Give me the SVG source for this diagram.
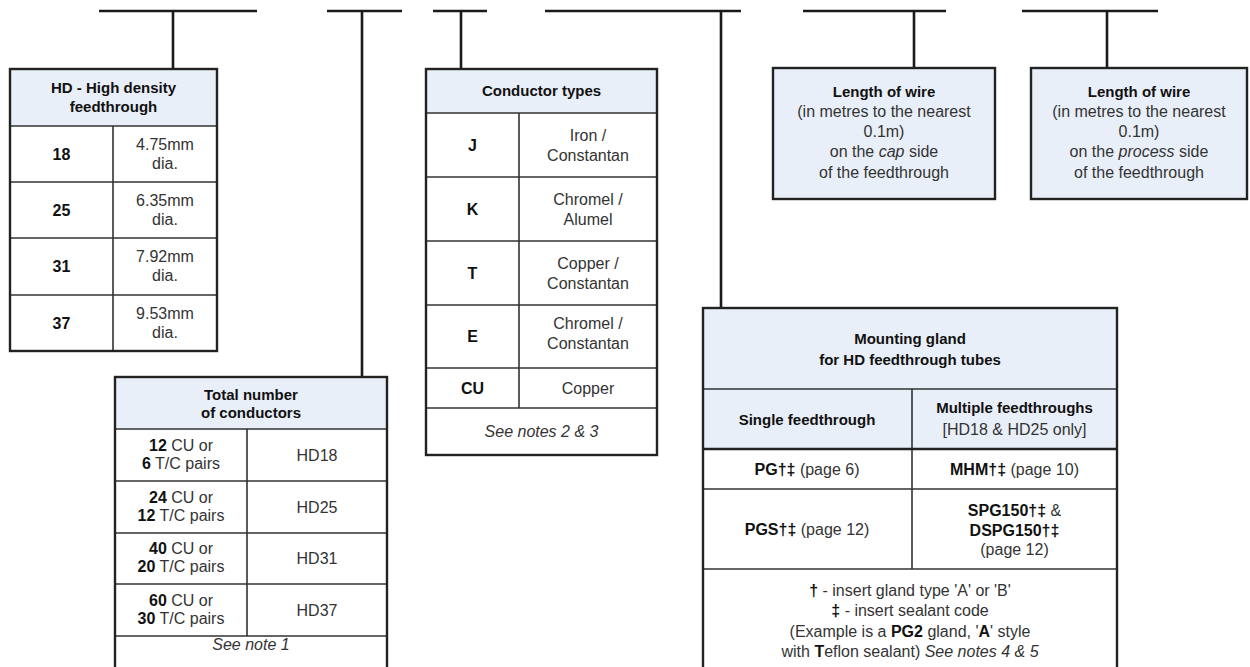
<svg xmlns="http://www.w3.org/2000/svg" width="1250" height="667" viewBox="0 0 1250 667">
<style>
text{font-family:"Liberation Sans",Arial,sans-serif;font-size:16px;fill:#333;text-anchor:middle}
.t{font-weight:bold;fill:#111;font-size:15px}
.b{font-weight:bold;fill:#111}
.i{font-style:italic}
.hdr{fill:#e9eff8}
.box{fill:none;stroke:#222;stroke-width:2.4}
.cell{fill:#fff}
.div{stroke:#333;stroke-width:1.6;fill:none}
.con{stroke:#1a1a1a;stroke-width:2.6;fill:none}
</style>
<g id="connectors">
<path class="con" d="M99 11H257M173 11V69"/>
<path class="con" d="M327 11H402M362 11V377"/>
<path class="con" d="M433 11H487M461 11V69"/>
<path class="con" d="M545 11H741M721 11V308"/>
<path class="con" d="M803 11H946M914 11V68"/>
<path class="con" d="M1022 11H1158M1107 11V68"/>
</g>
<g id="hd-box">
<rect class="cell" x="10" y="69" width="207" height="282"/>
<rect class="hdr" x="10" y="69" width="207" height="57"/>
<path class="div" d="M10 126H217M10 182H217M10 238H217M10 295H217M113 126V351"/>
<rect class="box" x="10" y="69" width="207" height="282"/>
<text class="t" x="113.5" y="93">HD - High density</text>
<text class="t" x="113.5" y="112">feedthrough</text>
<text class="b" x="61.5" y="160">18</text>
<text x="165" y="150">4.75mm</text><text x="165" y="169">dia.</text>
<text class="b" x="61.5" y="216">25</text>
<text x="165" y="206">6.35mm</text><text x="165" y="225">dia.</text>
<text class="b" x="61.5" y="272">31</text>
<text x="165" y="262">7.92mm</text><text x="165" y="281">dia.</text>
<text class="b" x="61.5" y="329">37</text>
<text x="165" y="319">9.53mm</text><text x="165" y="338">dia.</text>
</g>
<g id="total-box">
<rect class="cell" x="115" y="377" width="272" height="292"/>
<rect class="hdr" x="115" y="377" width="272" height="52"/>
<path class="div" d="M115 429H387M115 481H387M115 533H387M115 584H387M115 636H387M247 429V636"/>
<rect class="box" x="115" y="377" width="272" height="292"/>
<text class="t" x="251" y="400">Total number</text>
<text class="t" x="251" y="418">of conductors</text>
<text x="181" y="451"><tspan class="b">12</tspan> CU or</text>
<text x="181" y="469"><tspan class="b">6</tspan> T/C pairs</text>
<text x="317" y="461">HD18</text>
<text x="181" y="503"><tspan class="b">24</tspan> CU or</text>
<text x="181" y="521"><tspan class="b">12</tspan> T/C pairs</text>
<text x="317" y="513">HD25</text>
<text x="181" y="554"><tspan class="b">40</tspan> CU or</text>
<text x="181" y="572"><tspan class="b">20</tspan> T/C pairs</text>
<text x="317" y="564">HD31</text>
<text x="181" y="606"><tspan class="b">60</tspan> CU or</text>
<text x="181" y="624"><tspan class="b">30</tspan> T/C pairs</text>
<text x="317" y="616">HD37</text>
<text class="i" x="251" y="650">See note 1</text>
</g>
<g id="conductor-box">
<rect class="cell" x="426" y="69" width="231" height="386"/>
<rect class="hdr" x="426" y="69" width="231" height="44"/>
<path class="div" d="M426 113H657M426 177H657M426 241H657M426 305H657M426 368H657M426 408H657M519 113V408"/>
<rect class="box" x="426" y="69" width="231" height="386"/>
<text class="t" x="541.5" y="96">Conductor types</text>
<text class="b" x="472.5" y="151">J</text>
<text x="588" y="141">Iron /</text><text x="588" y="161">Constantan</text>
<text class="b" x="472.5" y="215">K</text>
<text x="588" y="205">Chromel /</text><text x="588" y="225">Alumel</text>
<text class="b" x="472.5" y="279">T</text>
<text x="588" y="269">Copper /</text><text x="588" y="289">Constantan</text>
<text class="b" x="472.5" y="342">E</text>
<text x="588" y="329">Chromel /</text><text x="588" y="349">Constantan</text>
<text class="b" x="472.5" y="394">CU</text>
<text x="588" y="394">Copper</text>
<text class="i" x="541.5" y="437">See notes 2 &amp; 3</text>
</g>
<g id="cap-length-box">
<rect class="hdr" x="773" y="68" width="222" height="131"/>
<rect class="box" x="773" y="68" width="222" height="131"/>
<text class="t" x="884" y="97">Length of wire</text>
<text x="884" y="117">(in metres to the nearest</text>
<text x="884" y="137">0.1m)</text>
<text x="884" y="157">on the <tspan class="i">cap</tspan> side</text>
<text x="884" y="178">of the feedthrough</text>
</g>
<g id="process-length-box">
<rect class="hdr" x="1031" y="68" width="216" height="131"/>
<rect class="box" x="1031" y="68" width="216" height="131"/>
<text class="t" x="1139" y="97">Length of wire</text>
<text x="1139" y="117">(in metres to the nearest</text>
<text x="1139" y="137">0.1m)</text>
<text x="1139" y="157">on the <tspan class="i">process</tspan> side</text>
<text x="1139" y="178">of the feedthrough</text>
</g>
<g id="mounting-gland-box">
<rect class="cell" x="703" y="308" width="414" height="361"/>
<rect class="hdr" x="703" y="308" width="414" height="141"/>
<path class="div" d="M703 389H1117M912 389V569"/>
<path class="box" d="M703 449H1117"/>
<path class="div" d="M703 489H1117M703 569H1117"/>
<rect class="box" x="703" y="308" width="414" height="361"/>
<text class="t" x="910" y="344">Mounting gland</text>
<text class="t" x="910" y="365">for HD feedthrough tubes</text>
<text class="t" x="807" y="425">Single feedthrough</text>
<text class="t" x="1014.5" y="413">Multiple feedthroughs</text>
<text x="1014.5" y="435">[HD18 &amp; HD25 only]</text>
<text x="807" y="475"><tspan class="b">PG†‡</tspan> (page 6)</text>
<text x="1014.5" y="475"><tspan class="b">MHM†‡</tspan> (page 10)</text>
<text x="807" y="535"><tspan class="b">PGS†‡</tspan> (page 12)</text>
<text x="1014.5" y="516"><tspan class="b">SPG150†‡</tspan> &amp;</text>
<text class="b" x="1014.5" y="536">DSPG150†‡</text>
<text x="1014.5" y="555">(page 12)</text>
<text x="910" y="596"><tspan class="b">†</tspan> - insert gland type 'A' or 'B'</text>
<text x="910" y="616"><tspan class="b">‡</tspan> - insert sealant code</text>
<text x="910" y="637">(Example is a <tspan class="b">PG2</tspan> gland, '<tspan class="b">A</tspan>' style</text>
<text x="910" y="657">with <tspan class="b">T</tspan>eflon sealant) <tspan class="i">See notes 4 &amp; 5</tspan></text>
</g>
</svg>
